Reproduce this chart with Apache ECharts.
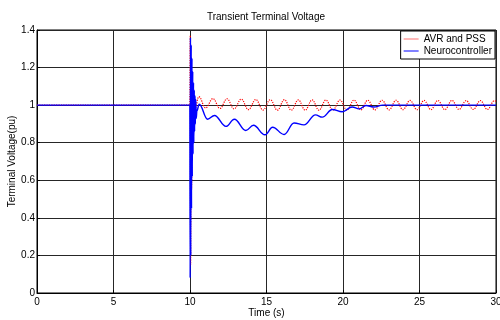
<!DOCTYPE html>
<html>
<head>
<meta charset="utf-8">
<script src="https://cdn.jsdelivr.net/npm/echarts@6/dist/echarts.min.js"></script>
<style>
html, body { margin: 0; padding: 0; background: #fff; }
#chart { width: 500px; height: 320px; }
</style>
</head>
<body>
<div id="chart"></div>
<script>
// values
const yTickLabels = ['0', '0.2', '0.4', '0.6', '0.8', '1', '1.2', '1.4'];

// AVR and PSS (red, dotted)
const avrTime = [0, 9.99, 10.0, 10.02, 10.04, 10.07, 10.10, 10.14, 10.18, 10.24, 10.32, 10.58,
  11.02, 11.5, 11.96, 12.42, 12.88, 13.35, 13.82, 14.3, 14.77, 15.25, 15.71, 16.17, 16.62, 17.08,
  17.53, 17.98, 18.43, 18.88, 19.34, 19.8, 20.26, 20.72, 21.17, 21.62, 22.08, 22.55, 23.01, 23.47,
  23.92, 24.38, 24.84, 25.3, 25.75, 26.2, 26.66, 27.12, 27.58, 28.05, 28.51, 28.98, 29.44, 29.9, 30];
const avrVolt = [1, 1, 1, 1.37, 0.15, 1.25, 0.55, 1.12, 0.85, 1.06, 0.98, 1.045,
  0.985, 1.035, 0.982, 1.034, 0.98, 1.032, 0.976, 1.03, 0.974, 1.029, 0.973, 1.029, 0.973, 1.028,
  0.973, 1.028, 0.973, 1.027, 0.974, 1.027, 0.974, 1.027, 0.975, 1.026, 0.975, 1.026, 0.975, 1.026,
  0.976, 1.025, 0.976, 1.025, 0.976, 1.025, 0.976, 1.025, 0.977, 1.024, 0.977, 1.024, 0.977, 1.024, 1.02];

// Neurocontroller (blue, solid)
const neuroTime = [0, 9.99, 10.0, 10.01, 10.03, 10.05, 10.08, 10.10, 10.13, 10.15, 10.18, 10.20,
  10.23, 10.25, 10.28, 10.30, 10.33, 10.35, 10.38, 10.41, 10.45, 10.6, 11.15, 11.6, 12.35, 12.9,
  13.65, 14.15, 14.9, 15.4, 16.15, 16.8, 17.45, 18.2, 18.65, 19.3, 19.95, 20.6, 21.05, 21.5, 22.0,
  22.6, 30];
const neuroVolt = [1, 1, 1, 0.08, 1.36, 0.2, 1.32, 0.45, 1.25, 0.62, 1.18, 0.74,
  1.12, 0.8, 1.08, 0.86, 1.05, 0.9, 1.03, 0.93, 0.97, 1.005, 0.925, 0.945, 0.887, 0.925,
  0.865, 0.893, 0.842, 0.882, 0.844, 0.905, 0.895, 0.948, 0.936, 0.977, 0.965, 0.99, 0.98, 0.998, 0.99,
  1.0, 1.0];

const zip = (xs, ys) => xs.map((x, i) => [x, ys[i]]);
const font = "'Liberation Sans', Arial, sans-serif";

const myChart = echarts.init(document.getElementById('chart'));

const option = {
  animation: false,
  backgroundColor: '#fff',
  title: {
    text: 'Transient Terminal Voltage',
    left: 266,
    top: 12,
    padding: 0,
    textAlign: 'center',
    textStyle: { fontSize: 10, fontWeight: 'normal', color: '#000', fontFamily: font },
  },
  legend: {
    orient: 'vertical',
    right: 5,
    top: 31,
    itemWidth: 15,
    itemHeight: 1,
    itemGap: 2,
    padding: [3, 3, 3, 3],
    borderColor: '#000',
    borderWidth: 1,
    borderRadius: 0,
    backgroundColor: '#fff',
    textStyle: { fontSize: 10, color: '#000', fontFamily: font },
    data: [
      { name: 'AVR and PSS', icon: 'rect', itemStyle: { color: 'rgba(255,0,0,0.55)' } },
      { name: 'Neurocontroller', icon: 'rect', itemStyle: { color: '#0000ff' } },
    ],
  },
  grid: {
    left: 37,
    right: 4,
    top: 30,
    bottom: 27,
    outerBoundsMode: 'none',
    containLabel: false,
    show: true,
    borderColor: '#000',
    borderWidth: 1,
  },
  xAxis: {
    type: 'value',
    min: 0,
    max: 30,
    interval: 5,
    name: 'Time (s)',
    nameLocation: 'middle',
    nameGap: 15,
    nameMoveOverlap: false,
    nameTextStyle: { fontSize: 10, color: '#000', fontFamily: font },
    axisLine: { lineStyle: { color: '#000' } },
    axisTick: { inside: true, length: 3, lineStyle: { color: '#000' } },
    axisLabel: { fontSize: 10, color: '#000', fontFamily: font, margin: 4 },
    splitLine: { show: true, lineStyle: { color: '#262626', width: 1 } },
  },
  yAxis: {
    type: 'value',
    min: 0,
    max: 1.4,
    interval: 0.2,
    name: 'Terminal Voltage(pu)',
    nameLocation: 'middle',
    nameGap: 20,
    nameMoveOverlap: false,
    nameTextStyle: { fontSize: 10, color: '#000', fontFamily: font },
    axisLine: { show: true, lineStyle: { color: '#000' } },
    axisTick: { show: true, inside: true, length: 3, lineStyle: { color: '#000' } },
    axisLabel: {
      fontSize: 10, color: '#000', fontFamily: font, margin: 2,
      formatter: (value, index) => yTickLabels[index],
    },
    splitLine: { show: true, lineStyle: { color: '#262626', width: 1 } },
  },
  series: [
    {
      name: 'AVR and PSS',
      type: 'line',
      data: zip(avrTime, avrVolt),
      symbol: 'none',
      smooth: 0.4,
      smoothMonotone: 'x',
      lineStyle: { color: '#ff0000', width: 1.2, type: 'dotted' },
      itemStyle: { color: '#ff0000' },
    },
    {
      name: 'Neurocontroller',
      type: 'line',
      data: zip(neuroTime, neuroVolt),
      symbol: 'none',
      smooth: 0.4,
      smoothMonotone: 'x',
      lineStyle: { color: '#0000ff', width: 1.4 },
      itemStyle: { color: '#0000ff' },
    },
  ],
};

myChart.setOption(option);
</script>
</body>
</html>
